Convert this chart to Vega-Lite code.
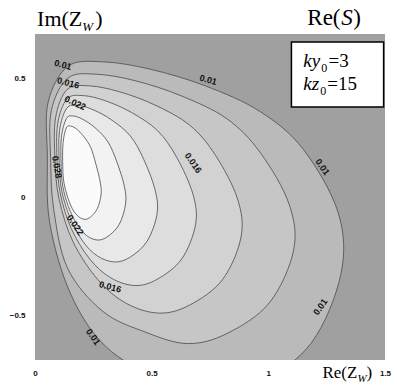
{
"$schema": "https://vega.github.io/schema/vega-lite/v6.json",
"width": 350, "height": 326,
"autosize": "none",
"padding": {"left": 35, "top": 34, "right": 12, "bottom": 25},
"background": "white",
"config": {
 "view": {"fill": "#a0a0a0", "stroke": null},
 "axis": {"grid": false, "ticks": false, "domain": false, "labelFont": "Liberation Sans", "labelFontWeight": "bold", "labelFontSize": 8, "labelColor": "#111", "labelFlush": false, "labelOverlap": false, "title": null},
 "axisX": {"labelPadding": 9},
 "axisY": {"labelPadding": 10}
},
"datasets": {
 "contours": [
  {"level":"0.010","i":1,"x":0.053,"y":0.172},{"level":"0.010","i":2,"x":0.056,"y":0.397},{"level":"0.010","i":3,"x":0.141,"y":0.549},{"level":"0.010","i":4,"x":0.290,"y":0.568},{"level":"0.010","i":5,"x":0.494,"y":0.537},{"level":"0.010","i":6,"x":0.730,"y":0.467},{"level":"0.010","i":7,"x":0.965,"y":0.359},{"level":"0.010","i":8,"x":1.150,"y":0.200},{"level":"0.010","i":9,"x":1.300,"y":-0.068},{"level":"0.010","i":10,"x":1.311,"y":-0.324},{"level":"0.010","i":11,"x":1.185,"y":-0.612},{"level":"0.010","i":12,"x":0.965,"y":-0.782},{"level":"0.010","i":13,"x":0.761,"y":-0.836},{"level":"0.010","i":14,"x":0.541,"y":-0.772},{"level":"0.010","i":15,"x":0.303,"y":-0.628},{"level":"0.010","i":16,"x":0.153,"y":-0.408},{"level":"0.010","i":17,"x":0.063,"y":-0.108},
  {"level":"0.013","i":1,"x":0.067,"y":0.163},{"level":"0.013","i":2,"x":0.070,"y":0.363},{"level":"0.013","i":3,"x":0.140,"y":0.499},{"level":"0.013","i":4,"x":0.263,"y":0.516},{"level":"0.013","i":5,"x":0.432,"y":0.488},{"level":"0.013","i":6,"x":0.627,"y":0.425},{"level":"0.013","i":7,"x":0.822,"y":0.329},{"level":"0.013","i":8,"x":0.965,"y":0.187},{"level":"0.013","i":9,"x":1.089,"y":-0.030},{"level":"0.013","i":10,"x":1.108,"y":-0.225},{"level":"0.013","i":11,"x":1.004,"y":-0.445},{"level":"0.013","i":12,"x":0.822,"y":-0.574},{"level":"0.013","i":13,"x":0.653,"y":-0.616},{"level":"0.013","i":14,"x":0.471,"y":-0.567},{"level":"0.013","i":15,"x":0.290,"y":-0.480},{"level":"0.013","i":16,"x":0.140,"y":-0.300},{"level":"0.013","i":17,"x":0.080,"y":-0.050},
  {"level":"0.016","i":1,"x":0.086,"y":0.155},{"level":"0.016","i":2,"x":0.088,"y":0.332},{"level":"0.016","i":3,"x":0.138,"y":0.452},{"level":"0.016","i":4,"x":0.233,"y":0.467},{"level":"0.016","i":5,"x":0.363,"y":0.442},{"level":"0.016","i":6,"x":0.513,"y":0.387},{"level":"0.016","i":7,"x":0.663,"y":0.302},{"level":"0.016","i":8,"x":0.773,"y":0.176},{"level":"0.016","i":9,"x":0.868,"y":-0.008},{"level":"0.016","i":10,"x":0.883,"y":-0.168},{"level":"0.016","i":11,"x":0.803,"y":-0.348},{"level":"0.016","i":12,"x":0.663,"y":-0.454},{"level":"0.016","i":13,"x":0.533,"y":-0.488},{"level":"0.016","i":14,"x":0.393,"y":-0.448},{"level":"0.016","i":15,"x":0.270,"y":-0.348},{"level":"0.016","i":16,"x":0.163,"y":-0.188},{"level":"0.016","i":17,"x":0.103,"y":-0.008},
  {"level":"0.019","i":1,"x":0.095,"y":0.148},{"level":"0.019","i":2,"x":0.097,"y":0.306},{"level":"0.019","i":3,"x":0.137,"y":0.412},{"level":"0.019","i":4,"x":0.207,"y":0.426},{"level":"0.019","i":5,"x":0.303,"y":0.404},{"level":"0.019","i":6,"x":0.414,"y":0.355},{"level":"0.019","i":7,"x":0.525,"y":0.279},{"level":"0.019","i":8,"x":0.607,"y":0.167},{"level":"0.019","i":9,"x":0.677,"y":0.012},{"level":"0.019","i":10,"x":0.688,"y":-0.116},{"level":"0.019","i":11,"x":0.629,"y":-0.260},{"level":"0.019","i":12,"x":0.525,"y":-0.345},{"level":"0.019","i":13,"x":0.429,"y":-0.372},{"level":"0.019","i":14,"x":0.325,"y":-0.340},{"level":"0.019","i":15,"x":0.234,"y":-0.260},{"level":"0.019","i":16,"x":0.155,"y":-0.132},{"level":"0.019","i":17,"x":0.109,"y":0.012},
  {"level":"0.022","i":1,"x":0.104,"y":0.141},{"level":"0.022","i":2,"x":0.105,"y":0.279},{"level":"0.022","i":3,"x":0.136,"y":0.373},{"level":"0.022","i":4,"x":0.185,"y":0.385},{"level":"0.022","i":5,"x":0.253,"y":0.365},{"level":"0.022","i":6,"x":0.331,"y":0.322},{"level":"0.022","i":7,"x":0.409,"y":0.256},{"level":"0.022","i":8,"x":0.466,"y":0.158},{"level":"0.022","i":9,"x":0.515,"y":0.029},{"level":"0.022","i":10,"x":0.523,"y":-0.072},{"level":"0.022","i":11,"x":0.481,"y":-0.185},{"level":"0.022","i":12,"x":0.409,"y":-0.252},{"level":"0.022","i":13,"x":0.341,"y":-0.273},{"level":"0.022","i":14,"x":0.268,"y":-0.248},{"level":"0.022","i":15,"x":0.204,"y":-0.185},{"level":"0.022","i":16,"x":0.149,"y":-0.084},{"level":"0.022","i":17,"x":0.114,"y":0.029},
  {"level":"0.025","i":1,"x":0.112,"y":0.134},{"level":"0.025","i":2,"x":0.113,"y":0.250},{"level":"0.025","i":3,"x":0.135,"y":0.330},{"level":"0.025","i":4,"x":0.167,"y":0.340},{"level":"0.025","i":5,"x":0.211,"y":0.323},{"level":"0.025","i":6,"x":0.262,"y":0.287},{"level":"0.025","i":7,"x":0.313,"y":0.231},{"level":"0.025","i":8,"x":0.351,"y":0.147},{"level":"0.025","i":9,"x":0.383,"y":0.045},{"level":"0.025","i":10,"x":0.388,"y":-0.030},{"level":"0.025","i":11,"x":0.361,"y":-0.115},{"level":"0.025","i":12,"x":0.313,"y":-0.165},{"level":"0.025","i":13,"x":0.269,"y":-0.181},{"level":"0.025","i":14,"x":0.221,"y":-0.162},{"level":"0.025","i":15,"x":0.180,"y":-0.115},{"level":"0.025","i":16,"x":0.143,"y":-0.040},{"level":"0.025","i":17,"x":0.119,"y":0.045},
  {"level":"0.028","i":1,"x":0.119,"y":0.127},{"level":"0.028","i":2,"x":0.120,"y":0.224},{"level":"0.028","i":3,"x":0.134,"y":0.290},{"level":"0.028","i":4,"x":0.153,"y":0.298},{"level":"0.028","i":5,"x":0.179,"y":0.285},{"level":"0.028","i":6,"x":0.209,"y":0.254},{"level":"0.028","i":7,"x":0.239,"y":0.208},{"level":"0.028","i":8,"x":0.261,"y":0.138},{"level":"0.028","i":9,"x":0.280,"y":0.060},{"level":"0.028","i":10,"x":0.283,"y":0.009},{"level":"0.028","i":11,"x":0.267,"y":-0.049},{"level":"0.028","i":12,"x":0.239,"y":-0.083},{"level":"0.028","i":13,"x":0.213,"y":-0.094},{"level":"0.028","i":14,"x":0.185,"y":-0.081},{"level":"0.028","i":15,"x":0.160,"y":-0.049},{"level":"0.028","i":16,"x":0.139,"y":0.002},{"level":"0.028","i":17,"x":0.124,"y":0.060}
 ],
 "lab15": [{"x":0.120,"y":0.555,"t":"0.01"},{"x":0.742,"y":0.492,"t":"0.01"},{"x":0.142,"y":0.479,"t":"0.016"},{"x":0.322,"y":-0.378,"t":"0.016"}],
 "lab25": [{"x":0.172,"y":0.395,"t":"0.022"}],
 "lab55": [{"x":0.678,"y":0.143,"t":"0.016"},{"x":1.232,"y":0.126,"t":"0.01"},{"x":0.249,"y":-0.588,"t":"0.01"},{"x":0.172,"y":-0.118,"t":"0.022"}],
 "lab80": [{"x":0.094,"y":0.126,"t":"0.028"}],
 "labm55": [{"x":1.223,"y":-0.462,"t":"0.01"}],
 "one": [{}]
},
"layer": [
 {
  "data": {"name": "contours"},
  "mark": {"type": "line", "interpolate": "cardinal-closed", "clip": true, "stroke": "#4a4a4a", "strokeWidth": 0.8},
  "encoding": {
   "x": {"field": "x", "type": "quantitative", "scale": {"domain": [0, 1.5], "nice": false, "zero": false}, "axis": {"values": [0, 0.5, 1, 1.5], "format": "~g"}},
   "y": {"field": "y", "type": "quantitative", "scale": {"domain": [-0.685, 0.685], "nice": false, "zero": false}, "axis": {"values": [-0.5, 0, 0.5], "format": "~g"}},
   "fill": {"field": "level", "type": "ordinal", "scale": {"domain": ["0.010","0.013","0.016","0.019","0.022","0.025","0.028"], "range": ["#bababa","#c6c6c6","#d2d2d2","#dddddd","#e8e8e8","#f2f2f2","#fbfbfb"]}, "legend": null},
   "order": {"field": "i", "type": "quantitative"}
  }
 },
 {"data": {"name": "lab15"}, "mark": {"type": "text", "font": "Liberation Sans", "fontWeight": "bold", "fontSize": 9, "angle": 15, "color": "#111"}, "encoding": {"x": {"field": "x", "type": "quantitative"}, "y": {"field": "y", "type": "quantitative"}, "text": {"field": "t"}}},
 {"data": {"name": "lab25"}, "mark": {"type": "text", "font": "Liberation Sans", "fontWeight": "bold", "fontSize": 9, "angle": 25, "color": "#111"}, "encoding": {"x": {"field": "x", "type": "quantitative"}, "y": {"field": "y", "type": "quantitative"}, "text": {"field": "t"}}},
 {"data": {"name": "lab55"}, "mark": {"type": "text", "font": "Liberation Sans", "fontWeight": "bold", "fontSize": 9, "angle": 55, "color": "#111"}, "encoding": {"x": {"field": "x", "type": "quantitative"}, "y": {"field": "y", "type": "quantitative"}, "text": {"field": "t"}}},
 {"data": {"name": "lab80"}, "mark": {"type": "text", "font": "Liberation Sans", "fontWeight": "bold", "fontSize": 9, "angle": 80, "color": "#111"}, "encoding": {"x": {"field": "x", "type": "quantitative"}, "y": {"field": "y", "type": "quantitative"}, "text": {"field": "t"}}},
 {"data": {"name": "labm55"}, "mark": {"type": "text", "font": "Liberation Sans", "fontWeight": "bold", "fontSize": 9, "angle": -55, "color": "#111"}, "encoding": {"x": {"field": "x", "type": "quantitative"}, "y": {"field": "y", "type": "quantitative"}, "text": {"field": "t"}}},
 {"data": {"name": "one"}, "mark": {"type": "rect", "fill": "white", "stroke": "black", "strokeWidth": 1.5}, "encoding": {"x": {"datum": 1.099}, "x2": {"datum": 1.494}, "y": {"datum": 0.651}, "y2": {"datum": 0.378}}},
 {"data": {"name": "one"}, "mark": {"type": "text", "text": "ky", "font": "Liberation Serif", "fontStyle": "italic", "fontSize": 19, "align": "left", "baseline": "alphabetic", "color": "black"}, "encoding": {"x": {"datum": 1.150}, "y": {"datum": 0.546}}},
 {"data": {"name": "one"}, "mark": {"type": "text", "text": "0", "font": "Liberation Serif", "fontSize": 12, "align": "left", "baseline": "alphabetic", "color": "black"}, "encoding": {"x": {"datum": 1.227}, "y": {"datum": 0.525}}},
 {"data": {"name": "one"}, "mark": {"type": "text", "text": "=3", "font": "Liberation Serif", "fontSize": 19, "align": "left", "baseline": "alphabetic", "color": "black"}, "encoding": {"x": {"datum": 1.258}, "y": {"datum": 0.546}}},
 {"data": {"name": "one"}, "mark": {"type": "text", "text": "kz", "font": "Liberation Serif", "fontStyle": "italic", "fontSize": 19, "align": "left", "baseline": "alphabetic", "color": "black"}, "encoding": {"x": {"datum": 1.150}, "y": {"datum": 0.450}}},
 {"data": {"name": "one"}, "mark": {"type": "text", "text": "0", "font": "Liberation Serif", "fontSize": 12, "align": "left", "baseline": "alphabetic", "color": "black"}, "encoding": {"x": {"datum": 1.223}, "y": {"datum": 0.429}}},
 {"data": {"name": "one"}, "mark": {"type": "text", "text": "=15", "font": "Liberation Serif", "fontSize": 19, "align": "left", "baseline": "alphabetic", "color": "black"}, "encoding": {"x": {"datum": 1.253}, "y": {"datum": 0.450}}},
 {"data": {"name": "one"}, "mark": {"type": "text", "text": "Im(Z", "font": "Liberation Serif", "fontSize": 22, "align": "left", "baseline": "alphabetic", "color": "black"}, "encoding": {"x": {"datum": 0.009}, "y": {"datum": 0.718}}},
 {"data": {"name": "one"}, "mark": {"type": "text", "text": "W", "font": "Liberation Serif", "fontStyle": "italic", "fontSize": 13, "align": "left", "baseline": "alphabetic", "color": "black"}, "encoding": {"x": {"datum": 0.203}, "y": {"datum": 0.697}}},
 {"data": {"name": "one"}, "mark": {"type": "text", "text": ")", "font": "Liberation Serif", "fontSize": 22, "align": "left", "baseline": "alphabetic", "color": "black"}, "encoding": {"x": {"datum": 0.258}, "y": {"datum": 0.718}}},
 {"data": {"name": "one"}, "mark": {"type": "text", "text": "Re(", "font": "Liberation Serif", "fontSize": 23, "align": "left", "baseline": "alphabetic", "color": "black"}, "encoding": {"x": {"datum": 1.167}, "y": {"datum": 0.723}}},
 {"data": {"name": "one"}, "mark": {"type": "text", "text": "S", "font": "Liberation Serif", "fontStyle": "italic", "fontSize": 23, "align": "left", "baseline": "alphabetic", "color": "black"}, "encoding": {"x": {"datum": 1.312}, "y": {"datum": 0.723}}},
 {"data": {"name": "one"}, "mark": {"type": "text", "text": ")", "font": "Liberation Serif", "fontSize": 23, "align": "left", "baseline": "alphabetic", "color": "black"}, "encoding": {"x": {"datum": 1.364}, "y": {"datum": 0.723}}},
 {"data": {"name": "one"}, "mark": {"type": "text", "text": "Re(Z", "font": "Liberation Serif", "fontSize": 17, "align": "left", "baseline": "alphabetic", "color": "black"}, "encoding": {"x": {"datum": 1.232}, "y": {"datum": -0.761}}},
 {"data": {"name": "one"}, "mark": {"type": "text", "text": "W", "font": "Liberation Serif", "fontStyle": "italic", "fontSize": 11, "align": "left", "baseline": "alphabetic", "color": "black"}, "encoding": {"x": {"datum": 1.382}, "y": {"datum": -0.777}}},
 {"data": {"name": "one"}, "mark": {"type": "text", "text": ")", "font": "Liberation Serif", "fontSize": 17, "align": "left", "baseline": "alphabetic", "color": "black"}, "encoding": {"x": {"datum": 1.421}, "y": {"datum": -0.761}}}
]
}
